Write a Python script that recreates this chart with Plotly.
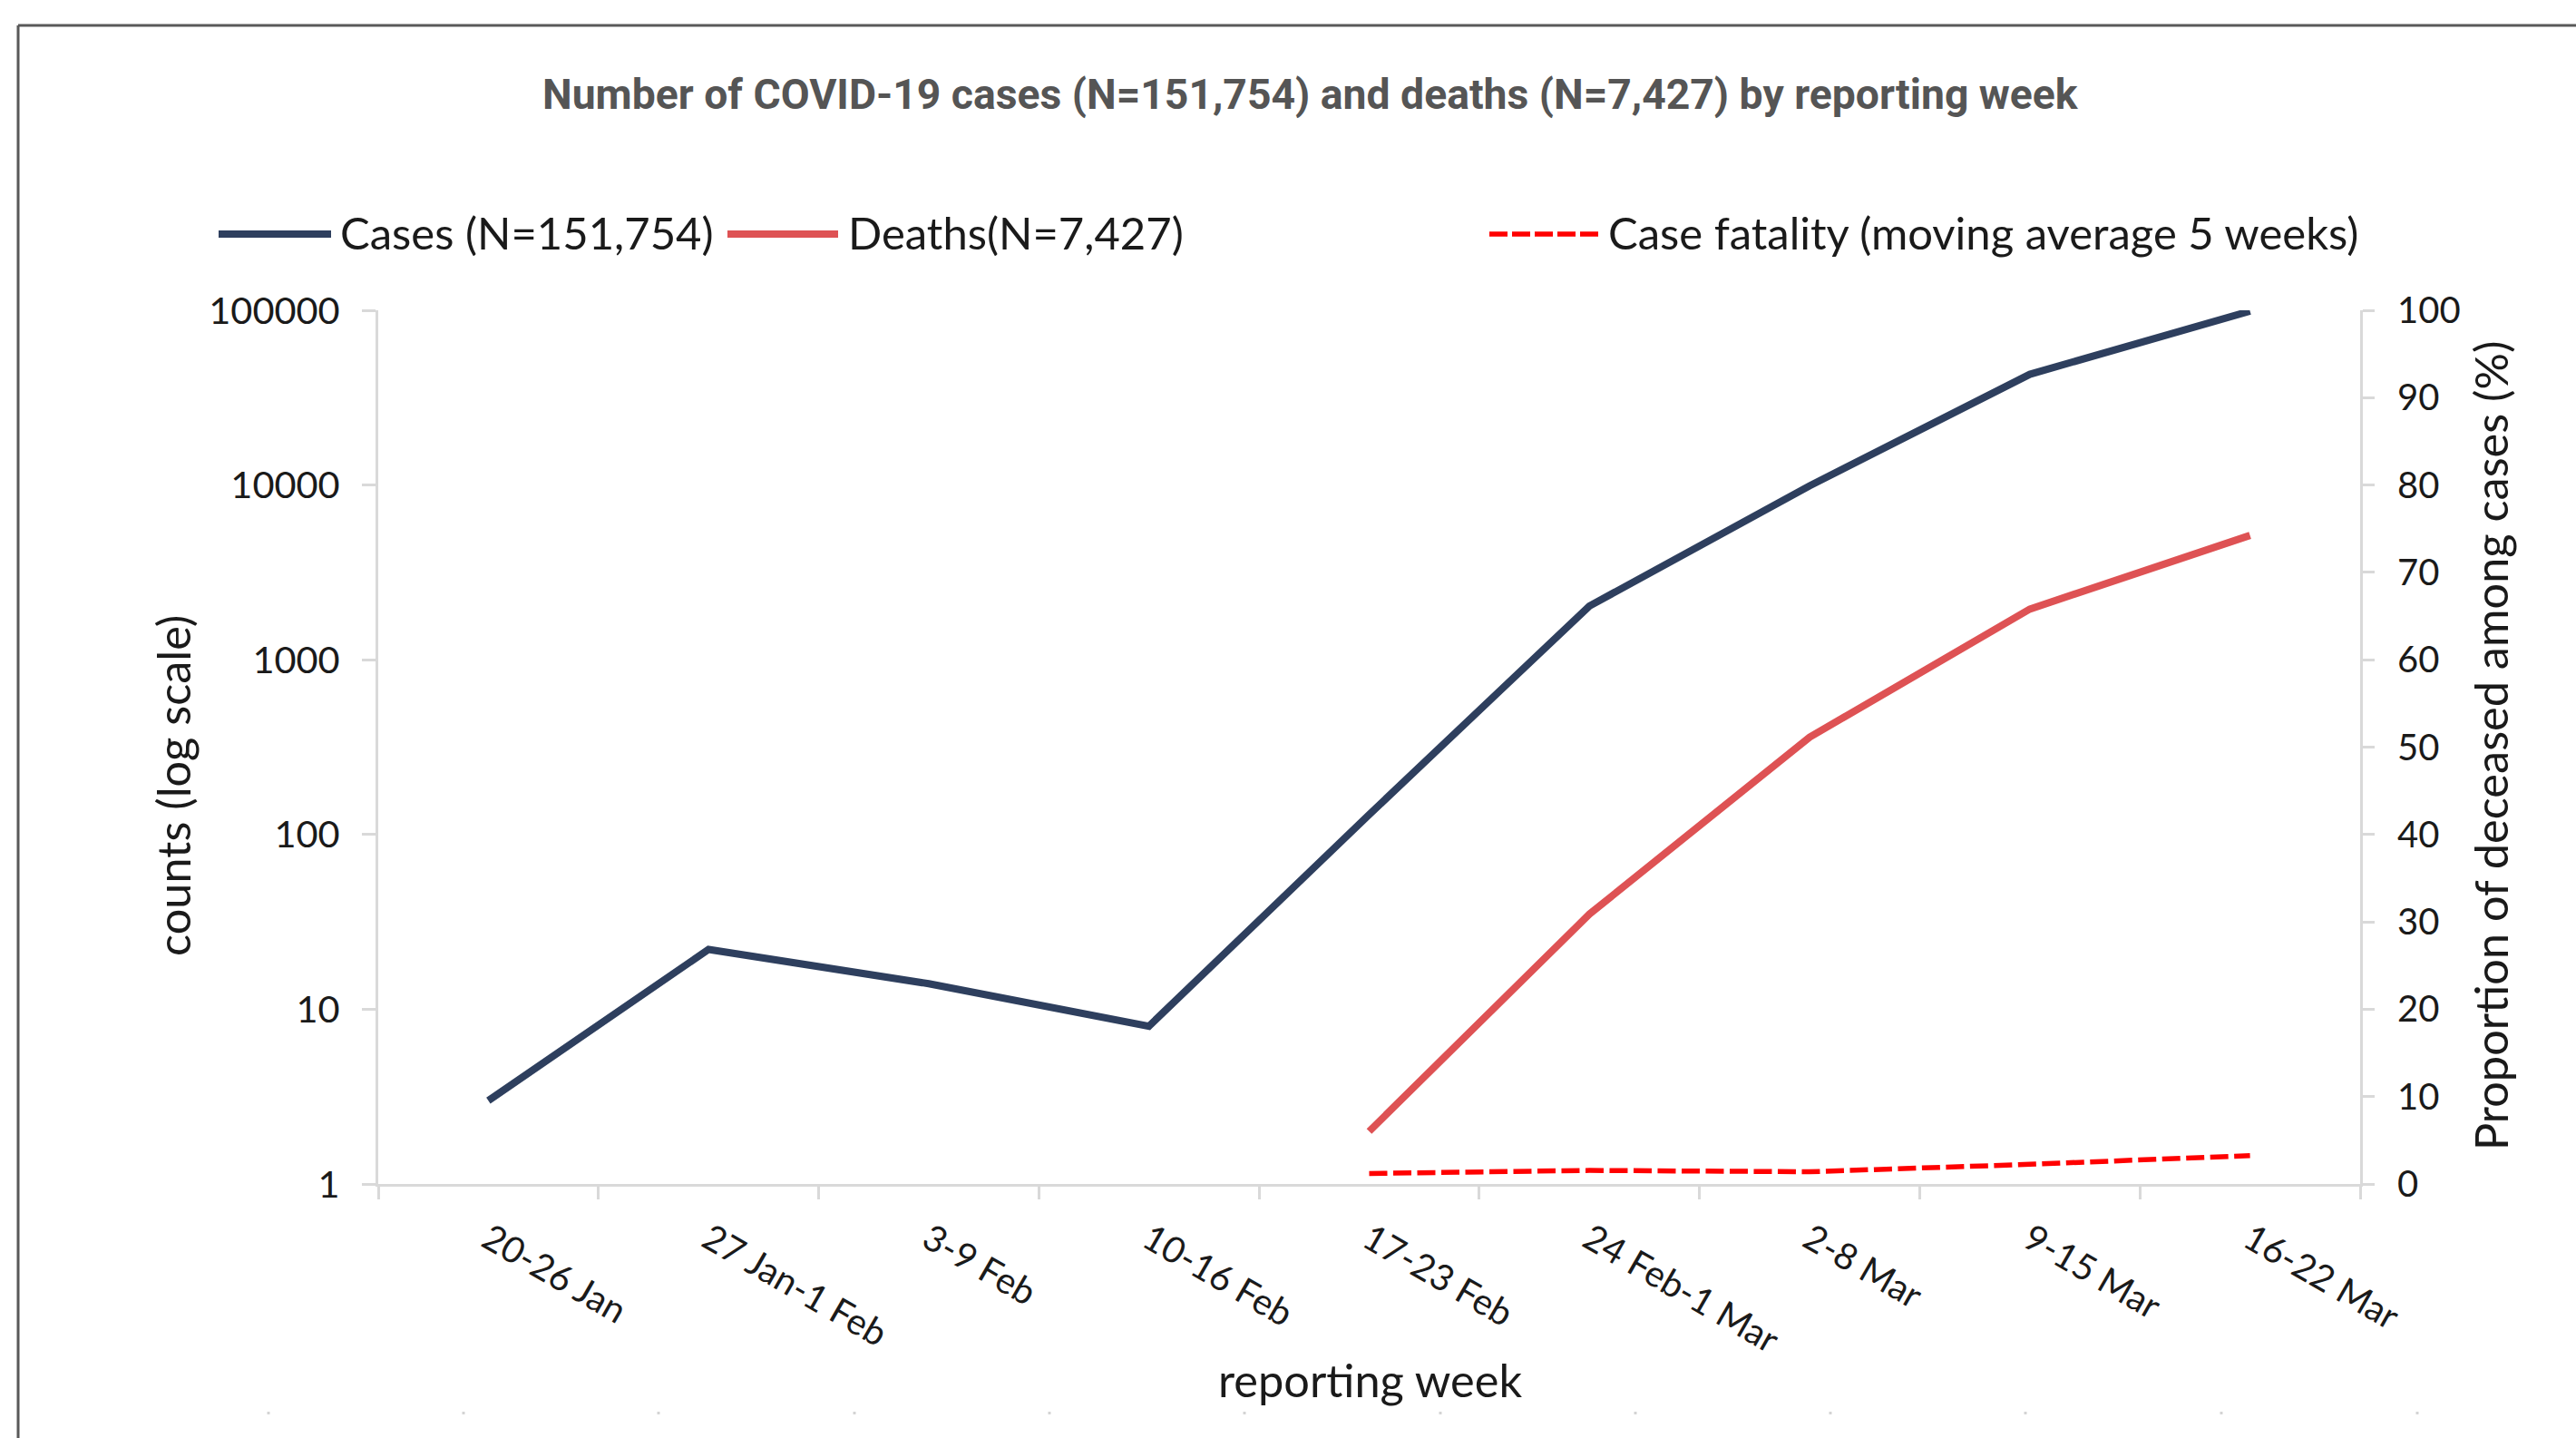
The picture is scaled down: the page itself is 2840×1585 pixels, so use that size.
import plotly.graph_objects as go

# ---------------- data ----------------
weeks = ["20-26 Jan", "27 Jan-1 Feb", "3-9 Feb", "10-16 Feb", "17-23 Feb",
         "24 Feb-1 Mar", "2-8 Mar", "9-15 Mar", "16-22 Mar"]
cases = [3, 22, 14, 8, 130, 2030, 9900, 43000, 98900]
deaths = [None, None, None, None, 2, 35, 360, 1950, 5150]
case_fatality = [None, None, None, None, 1.2, 1.55, 1.4, 2.25, 3.25]

left_tickvals = [1, 10, 100, 1000, 10000, 100000]
left_ticktext = ["1", "10", "100", "1000", "10000", "100000"]
right_tickvals = [0, 10, 20, 30, 40, 50, 60, 70, 80, 90, 100]

series_names = ["Cases (N=151,754)", "Deaths(N=7,427)",
                "Case fatality (moving average 5 weeks)"]
title_text = "Number of COVID-19 cases (N=151,754) and deaths (N=7,427) by reporting week"

# ---------------- styles ----------------
C_CASES = "#2E3F5E"
C_DEATHS = "#DE5254"
C_CF = "#FF0000"
AXIS_C = "#D9D9D9"
TXT = "#1A1A1A"
FONT = "Lato"

W, H = 2840, 1585
L, R, T, B = 417, 238, 342, 280
PW, PH = W - L - R, H - T - B


def xp(px):
    return (px - L) / PW


def yp(py):
    return (H - B - py) / PH


fig = go.Figure()
fig.add_trace(go.Scatter(x=weeks, y=cases, mode="lines", name=series_names[0],
                         line=dict(color=C_CASES, width=8), yaxis="y"))
fig.add_trace(go.Scatter(x=weeks, y=deaths, mode="lines", name=series_names[1],
                         line=dict(color=C_DEATHS, width=8), yaxis="y"))
fig.add_trace(go.Scatter(x=weeks, y=case_fatality, mode="lines", name=series_names[2],
                         line=dict(color=C_CF, width=5.5, dash="20px,6.5px"), yaxis="y2"))

axis_common = dict(showgrid=False, zeroline=False, showline=True, linecolor=AXIS_C,
                   linewidth=3, ticks="outside", tickcolor=AXIS_C, tickwidth=3)

fig.update_layout(
    width=W, height=H,
    margin=dict(l=L, r=R, t=T, b=B, pad=0),
    paper_bgcolor="white", plot_bgcolor="white",
    showlegend=False,
    xaxis=dict(type="category", categoryorder="array", categoryarray=weeks,
               range=[-0.5, len(weeks) - 0.5], tickson="boundaries", ticklen=14,
               tickangle=30, ticklabelstandoff=19,
               tickfont=dict(family=FONT, size=40, color=TXT), **axis_common),
    yaxis=dict(type="log", range=[0, 5], tickvals=left_tickvals, ticktext=left_ticktext,
               ticklen=15, ticklabelstandoff=16,
               tickfont=dict(family=FONT, size=41.5, color=TXT), **axis_common),
    yaxis2=dict(overlaying="y", side="right", range=[0, 100], tickvals=right_tickvals,
                ticklen=13, ticklabelstandoff=17,
                tickfont=dict(family=FONT, size=40, color=TXT), **axis_common),
)

shapes = []
# outer frame (top and left edges visible)
shapes.append(dict(type="line", xref="paper", yref="paper", x0=xp(20), x1=xp(W + 5),
                   y0=yp(28), y1=yp(28), line=dict(color="#595959", width=3)))
shapes.append(dict(type="line", xref="paper", yref="paper", x0=xp(20), x1=xp(20),
                   y0=yp(28), y1=yp(H + 5), line=dict(color="#595959", width=3)))
# faint remnant tick dots along bottom
for px in [296, 511, 726, 942, 1157, 1372, 1588, 1803, 2018, 2233, 2449, 2665]:
    shapes.append(dict(type="rect", xref="paper", yref="paper", x0=xp(px - 1.5), x1=xp(px + 1.5),
                       y0=yp(1556), y1=yp(1559), fillcolor="#D4D4D4", line=dict(width=0)))
# legend samples
leg_y = yp(258)
shapes.append(dict(type="line", xref="paper", yref="paper", x0=xp(241), x1=xp(365),
                   y0=leg_y, y1=leg_y, line=dict(color=C_CASES, width=8)))
shapes.append(dict(type="line", xref="paper", yref="paper", x0=xp(802), x1=xp(924),
                   y0=leg_y, y1=leg_y, line=dict(color=C_DEATHS, width=8)))
shapes.append(dict(type="line", xref="paper", yref="paper", x0=xp(1642), x1=xp(1762),
                   y0=leg_y, y1=leg_y, line=dict(color=C_CF, width=5.5, dash="20px,5px")))
fig.update_layout(shapes=shapes)

ann = []
ann.append(dict(text="<b>" + title_text + "</b>", xref="paper", yref="paper",
                x=xp(1445), y=yp(104), xanchor="center", yanchor="middle", showarrow=False,
                font=dict(family="Roboto", size=46.3, color="#555555")))
for txt, px in zip(series_names, [373, 933, 1771]):
    ann.append(dict(text=txt, xref="paper", yref="paper", x=xp(px), y=yp(256),
                    xanchor="left", yanchor="middle", showarrow=False,
                    font=dict(family=FONT, size=49, color=TXT)))
ann.append(dict(text="counts (log scale)", xref="paper", yref="paper", x=xp(190), y=yp(866),
                xanchor="center", yanchor="middle", textangle=-90, showarrow=False,
                font=dict(family=FONT, size=50.5, color=TXT)))
ann.append(dict(text="reporting week", xref="paper", yref="paper", x=xp(1510), y=yp(1520),
                xanchor="center", yanchor="middle", showarrow=False,
                font=dict(family=FONT, size=50.5, color=TXT)))
ann.append(dict(text="Proportion of deceased among cases (%)", xref="paper", yref="paper",
                x=xp(2745), y=yp(822), xanchor="center", yanchor="middle", textangle=-90,
                showarrow=False, font=dict(family=FONT, size=50.5, color=TXT)))
fig.update_layout(annotations=ann)

fig.write_html("out.html", config={"displayModeBar": False},
               post_script="document.body.style.margin='0';document.body.style.overflow='hidden';")
